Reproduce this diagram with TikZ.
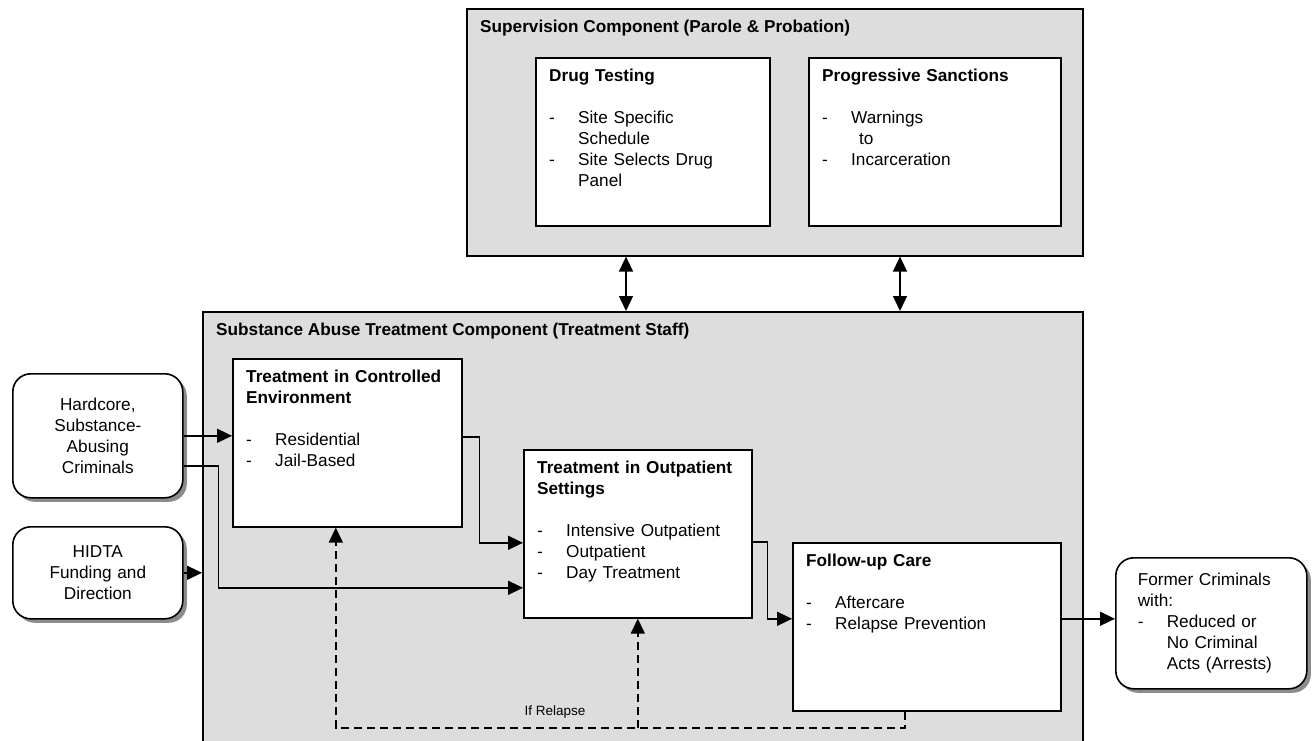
\documentclass[tikz,border=0pt]{standalone}
\usepackage{fontspec}
\setmainfont{Liberation Sans}
\usetikzlibrary{arrows.meta,positioning,shadows}
\definecolor{cPanel}{HTML}{DDDDDD}
\definecolor{cShadow}{HTML}{8C8C8C}
\setlength{\parindent}{0pt}
\newcommand{\bodyfont}{\fontsize{17.2}{21}\selectfont}
\newcommand{\notefont}{\fontsize{13.5}{16}\selectfont}
\newcommand{\dashitem}[1]{\par\noindent\hangindent=29pt\hangafter=1\makebox[29pt][l]{-}#1\par}
\newcommand{\brk}{\hfil\break}
\tikzset{
  panel/.style={draw, line width=1.6pt, fill=cPanel, anchor=north west, inner sep=0pt},
  card/.style={draw, line width=1.6pt, fill=white, anchor=north west, inner sep=0pt},
  cardtext/.style={anchor=north west, align=left, inner xsep=14pt, inner ysep=12pt, font=\bodyfont},
  pill/.style={draw, line width=1.6pt, fill=white, rounded corners=18pt, anchor=north west,
    font=\bodyfont, drop shadow={shadow xshift=4pt, shadow yshift=-4pt, fill=cShadow, opacity=1}},
  flow/.style={-{Triangle[length=15pt,width=14pt]}, line width=1.6pt},
  twoway/.style={{Triangle[length=15pt,width=14pt]}-{Triangle[length=15pt,width=14pt]}, line width=1.4pt},
  relapse/.style={flow, dash pattern=on 8pt off 5pt},
}
\begin{document}
\begin{tikzpicture}[x=1pt, y=-1pt]
    \useasboundingbox (0,0) rectangle (1312,740);
    % --- supervision component ---
    \node[panel, minimum width=616pt, minimum height=247pt] (sup) at (466,8) {};
    \node[cardtext, font=\bodyfont\bfseries] (suptitle) at (sup.north west)
      {Supervision Component (Parole \& Probation)};
    \node[card, minimum width=234pt, minimum height=168pt] (drug) at (535,57) {};
    \node[cardtext, text width=206pt] (drugtxt) at (drug.north west)
      {\textbf{Drug Testing}\par\vspace{21pt}%
       \dashitem{Site Specific\brk Schedule}\dashitem{Site Selects Drug\brk Panel}};
    \node[card, minimum width=252pt, minimum height=168pt] (sanct) at (808,57) {};
    \node[cardtext, text width=224pt] (sancttxt) at (sanct.north west)
      {\textbf{Progressive Sanctions}\par\vspace{21pt}%
       \dashitem{Warnings\brk\hspace*{8pt}to}\dashitem{Incarceration}};
    % --- treatment component ---
    \node[panel, minimum width=880pt, minimum height=440pt] (treat) at (202,311) {};
    \node[cardtext, font=\bodyfont\bfseries] (treattitle) at (treat.north west)
      {Substance Abuse Treatment Component (Treatment Staff)};
    \node[card, minimum width=229pt, minimum height=168pt] (ctrl) at (232,358) {};
    \node[cardtext, text width=201pt] (ctrltxt) at (ctrl.north west)
      {\textbf{Treatment in Controlled\\Environment}\par\vspace{21pt}%
       \dashitem{Residential}\dashitem{Jail-Based}};
    \node[card, minimum width=228pt, minimum height=168pt] (outp) at (523,449) {};
    \node[cardtext, text width=200pt] (outptxt) at (outp.north west)
      {\textbf{Treatment in Outpatient\\Settings}\par\vspace{21pt}%
       \dashitem{Intensive Outpatient}\dashitem{Outpatient}\dashitem{Day Treatment}};
    \node[card, minimum width=268pt, minimum height=168pt] (follow) at (792,542) {};
    \node[cardtext, text width=240pt] (followtxt) at (follow.north west)
      {\textbf{Follow-up Care}\par\vspace{21pt}%
       \dashitem{Aftercare}\dashitem{Relapse Prevention}};
    % --- inputs and outcome ---
    \node[pill, minimum width=170pt, minimum height=124pt, align=center, text width=150pt]
      (crim) at (12,373) {Hardcore,\\Substance-\\Abusing\\Criminals};
    \node[pill, minimum width=170pt, minimum height=92pt, align=center, text width=150pt]
      (hidta) at (12,526) {HIDTA\\Funding and\\Direction};
    \node[pill, minimum width=191pt, minimum height=131pt, align=left, text width=147pt,
      inner xsep=22pt] (former) at (1115,557)
      {Former Criminals\\with:\dashitem{Reduced or\brk No Criminal\brk Acts (Arrests)}};
    % --- links between components ---
    \coordinate (linkA) at (626,283);
    \coordinate (linkB) at (900,283);
    \draw[twoway] (sup.south -| linkA) -- (treat.north -| linkA);
    \draw[twoway] (sup.south -| linkB) -- (treat.north -| linkB);
    % --- flow ---
    \draw[flow] (crim.east) -- (crim.east -| ctrl.west);
    \draw[flow] ([yshift=-30pt]crim.east) -- ++(35,0) |- ([yshift=-54pt]outp.west);
    \draw[flow] (hidta.east) -- (hidta.east -| treat.west);
    \draw[flow] ([yshift=6pt]ctrl.east) -- ++(17,0) |- ([yshift=-9pt]outp.west);
    \draw[flow] ([yshift=-8pt]outp.east) -- ++(15,0) |- ([yshift=8pt]follow.west);
    \draw[flow] ([yshift=8pt]follow.east) -- ([yshift=8pt]follow.east -| former.west);
    % --- relapse loop ---
    \coordinate (rl) at (904,728);
    \coordinate (ctrlin) at ([xshift=-11.5pt]ctrl.south);
    \draw[relapse] ([xshift=-22pt]follow.south) |- (ctrlin |- rl) -- (ctrlin);
    \draw[relapse] (outp.south |- rl) -- (outp.south);
    \node[font=\notefont, anchor=base] (iflabel) at (555,715) {If Relapse};
\end{tikzpicture}
\end{document}
